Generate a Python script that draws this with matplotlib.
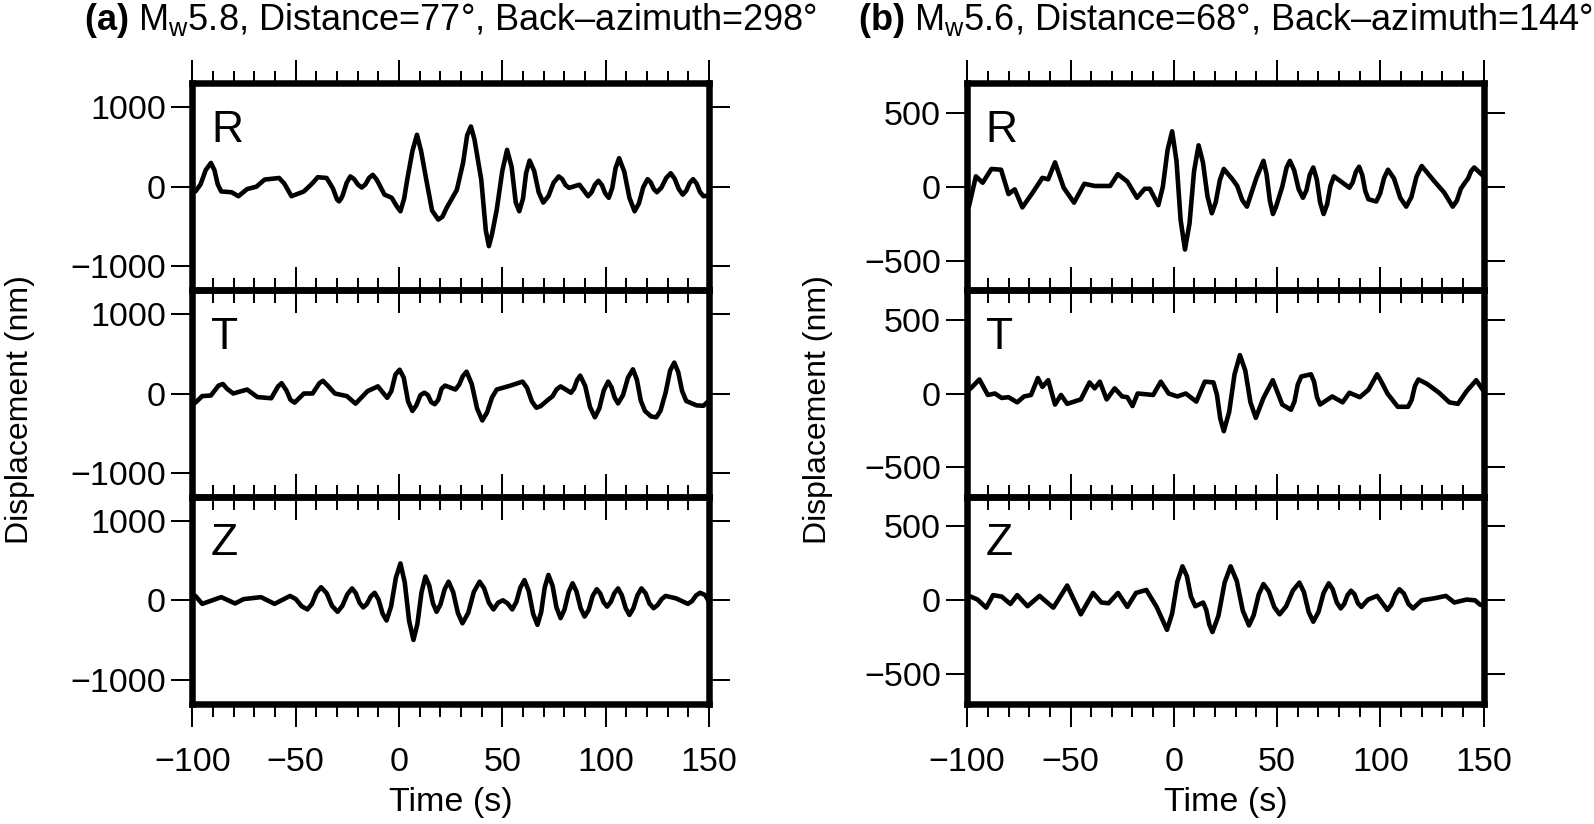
import numpy as np
import matplotlib
matplotlib.use('Agg')
import matplotlib.pyplot as plt
from matplotlib.ticker import MultipleLocator, FixedLocator

plt.rcParams['font.family'] = ['Liberation Sans', 'DejaVu Sans']
plt.rcParams['mathtext.fontset'] = 'custom'
plt.rcParams['mathtext.rm'] = 'Liberation Sans'
plt.rcParams['mathtext.bf'] = 'Liberation Sans:bold'
plt.rcParams['mathtext.it'] = 'Liberation Sans:italic'

# ---------------- data (time s, displacement nm) ----------------
a_R = [(-100, -50), (-98.5, -60), (-96, 30), (-93.5, 210), (-91, 300), (-89.3, 210), (-87.7, 30),
       (-86, -60), (-81, -70), (-77.7, -120), (-73.5, -30), (-69, 0), (-65, 90), (-58, 110),
       (-55.5, 40), (-52, -120), (-46, -60), (-42, 40), (-39.3, 120), (-35, 110), (-32, -20),
       (-30, -160), (-29, -185), (-28, -150), (-27.2, -105), (-25.3, 50), (-23.5, 130),
       (-21.7, 95), (-19.8, 25), (-18, -10), (-16.2, 30), (-14.5, 110), (-12.7, 150),
       (-10.8, 90), (-7, -100), (-3.5, -140), (-1, -250), (0.7, -310), (2.5, -150), (4, 90),
       (6.5, 450), (8.7, 655), (10.7, 450), (13.2, 90), (16, -300), (19, -415), (21, -380),
       (23, -270), (28, -40), (31, 300), (33, 650), (34.8, 760), (36.5, 600), (39.8, 90),
       (42, -550), (43.5, -750), (45, -600), (47.3, -290), (50, 200), (52.3, 465), (54.5, 250),
       (56.5, -200), (58.2, -310), (60, -150), (61.5, 170), (63.2, 330), (65.4, 200),
       (67.6, -70), (69.8, -200), (72.3, -120), (74.8, 50), (77.3, 130), (79, 95), (80.6, 20),
       (82.3, -15), (87.3, 25), (91.5, -120), (93.2, -70), (94.8, 25), (96.5, 75), (98.2, 20),
       (99.8, -85), (101.5, -140), (103.2, -15), (104.8, 235), (106.5, 360), (109, 190),
       (111.5, -140), (114, -310), (116.1, -210), (118.2, -5), (120.3, 95), (121.8, 55),
       (123.3, -30), (124.8, -70), (127, -10), (129.3, 110), (131.5, 170), (133.4, 100),
       (135.4, -30), (137.3, -100), (139, -50), (140.6, 45), (142.3, 95), (144, 40),
       (145.6, -65), (147.3, -120), (150, -110)]

a_T = [(-100, -130), (-98.5, -115), (-95.2, -33), (-91, -25), (-87.3, 100), (-85.2, 120),
       (-83.2, 60), (-80.2, 0), (-73.5, 50), (-68.5, -45), (-61.8, -60), (-58.5, 90),
       (-56.8, 130), (-54.5, 40), (-52.5, -80), (-50.5, -115), (-46, 0), (-41.8, 0),
       (-38.5, 130), (-36.8, 160), (-34.5, 100), (-31, 0), (-25.2, -33), (-21, -128),
       (-15.2, 30), (-10.2, 90), (-5.7, -55), (-3.7, 30), (-1.7, 240), (0.3, 300), (2.3, 200),
       (4.4, -100), (6.5, -220), (8.4, -150), (10.4, -20), (12.3, 10), (14, -20), (15.6, -110),
       (17.3, -135), (19, -80), (20.6, 60), (22.3, 100), (27.3, 50), (29.1, 110), (30.9, 220),
       (32.7, 275), (35.2, 120), (37.8, -190), (40.3, -340), (42.6, -240), (45, -50),
       (47.3, 50), (54, 100), (59.8, 150), (62, 70), (64.3, -100), (66.5, -180), (68.5, -160),
       (72.3, -75), (74.3, -35), (76.2, 50), (78.2, 90), (83.2, 10), (84.7, 60), (86.2, 170),
       (87.7, 225), (90.1, 95), (92.4, -170), (94.8, -300), (96.9, -190), (99.1, 40),
       (101.2, 150), (102.8, 80), (104.4, -55), (106, -125), (108.4, -20), (110.8, 200),
       (113.2, 305), (115.1, 175), (117, -90), (119, -220), (122, -290), (124.5, -300),
       (126.5, -220), (129, 10), (131.2, 290), (133.2, 390), (135.1, 270), (137, 30),
       (139, -95), (144, -150), (147.3, -155), (150, -90)]

a_Z = [(-100, 70), (-98.5, 55), (-95.2, -45), (-86, 40), (-79.3, -40), (-75.2, 15), (-66.8, 40),
       (-60.2, -45), (-52.7, 55), (-49.9, 15), (-47.1, -75), (-44.3, -115), (-42.1, -45),
       (-39.9, 95), (-37.7, 165), (-35, 90), (-32.4, -70), (-29.7, -145), (-27.4, -70),
       (-25, 75), (-22.7, 150), (-20.9, 90), (-19.1, -30), (-17.3, -90), (-15.5, -45),
       (-13.6, 50), (-11.8, 95), (-9.9, 10), (-7.9, -170), (-6, -255), (-3.8, -75), (-1.5, 285),
       (0.7, 465), (2.8, 225), (4.9, -260), (7, -500), (8.9, -300), (10.9, 100), (12.8, 300),
       (14.6, 190), (16.4, -35), (18.2, -145), (20.1, -50), (22.1, 140), (24, 235), (26.2, 105),
       (28.5, -160), (30.7, -290), (33.5, -160), (36.2, 105), (39, 235), (41.2, 150),
       (43.5, -30), (45.7, -115), (48, -30), (50.3, 0), (52.6, -40), (54.8, -115), (56.8, -20),
       (58.7, 160), (60.7, 255), (62.8, 115), (64.9, -170), (67, -310), (68.8, -150),
       (70.5, 160), (72.3, 320), (74.3, 185), (76.2, -90), (78.2, -225), (80.1, -115),
       (82.1, 105), (84, 215), (85.9, 110), (87.9, -100), (89.8, -205), (91.8, -120),
       (93.7, 55), (95.7, 140), (97.4, 85), (99, -25), (100.7, -80), (102.5, -20), (104.2, 90),
       (106, 150), (107.8, 65), (109.7, -100), (111.5, -185), (113.4, -100), (115.4, 65),
       (117.3, 150), (119.3, 90), (121.2, -40), (123.2, -100), (125.1, -60), (127.1, 15),
       (129, 55), (134, 25), (139.8, -45), (141.8, -10), (143.7, 60), (145.7, 95), (148.2, 65),
       (150, -20)]

b_R = [(-100, -160), (-99.1, -130), (-95.8, 70), (-92.5, 27), (-88.3, 120), (-83.6, 115),
       (-80, -50), (-77, -18), (-73.3, -140), (-68.3, -40), (-63.6, 60), (-60.8, 50),
       (-57.5, 165), (-53.3, -7), (-48.3, -108), (-43.3, 20), (-38.3, 5), (-30.8, 5),
       (-27.1, 85), (-22.5, 35), (-17.8, -75), (-14.1, -14), (-11.6, -14), (-7.5, -125),
       (-5.3, 0), (-3, 250), (-0.8, 375), (1.3, 175), (3.3, -225), (5.4, -425), (7.6, -250),
       (9.8, 105), (12, 280), (14.1, 165), (16.3, -65), (18.4, -180), (20.3, -105), (22.3, 45),
       (24.2, 120), (28.4, 50), (30.7, 5), (33.1, -90), (35.4, -135), (40, 60), (43.4, 175),
       (44.9, 85), (46.5, -95), (48, -185), (49.5, -135), (52.5, 0), (54.6, 130), (56.2, 175),
       (58.3, 110), (60.4, -15), (62.5, -75), (64.2, -25), (65.8, 80), (67.5, 130), (69.2, 50),
       (70.8, -105), (72.5, -185), (74.2, -120), (75.8, 5), (77.5, 70), (85, -7), (86.6, 30),
       (88.1, 100), (89.7, 135), (91.2, 80), (92.7, -30), (94.2, -85), (98, -100), (99.9, -45),
       (101.8, 60), (103.7, 115), (106.6, 55), (109.6, -75), (112.5, -135), (115, -70),
       (117.5, 70), (120, 140), (125.9, 40), (130.9, -40), (135, -135), (137, -95),
       (138.9, -15), (140.9, 27), (142.4, 55), (143.9, 105), (145.4, 130), (150, 70)]

b_T = [(-100, 20), (-98.3, 35), (-94.1, 95), (-90, -10), (-86.6, 0), (-83.3, -30), (-80, -25),
       (-75.8, -60), (-72.5, -20), (-69.1, -10), (-65.8, 105), (-63.6, 45), (-60.8, 90),
       (-57.5, -75), (-54.6, -10), (-51.6, -70), (-45, -40), (-40.8, 75), (-38.3, 35),
       (-35.8, 80), (-32.5, -40), (-28.6, 35), (-25, -20), (-22.5, -25), (-20, -85),
       (-17.5, 0), (-10, -10), (-6.3, 80), (-2.5, 0), (1.7, -20), (5.8, 0), (10.9, -55),
       (15, 80), (19.2, 75), (20.9, -10), (22.5, -170), (24.2, -255), (26.8, -125), (29.4, 130),
       (32, 260), (34.6, 155), (37.1, -60), (39.7, -165), (43.4, -30), (47.9, 90), (52.5, -75),
       (56.7, -110), (58.4, -55), (60, 60), (61.7, 115), (66.4, 130), (67.9, 80), (69.3, -25),
       (70.8, -75), (76.7, -20), (81.7, -60), (85, 5), (90, -25), (94.2, 25), (98.4, 130),
       (100.1, 90), (103.4, 0), (108.4, -90), (113.4, -90), (115.1, -45), (116.7, 50),
       (118.4, 95), (122.6, 65), (128.4, 5), (133.4, -60), (137.5, -70), (141.7, 15),
       (146.4, 90), (150, 15)]

b_Z = [(-100, 30), (-98.3, 25), (-95, 5), (-90.8, -50), (-87.5, 35), (-83.3, 25), (-79.1, -25),
       (-75.8, 35), (-70.8, -40), (-65, 30), (-58.3, -50), (-51.6, 100), (-45, -95),
       (-39.1, 50), (-35, -15), (-31.6, -20), (-27, 50), (-22.5, -45), (-18.3, 50),
       (-13.3, 70), (-8.3, -45), (-3.3, -200), (-0.8, -90), (1.7, 125), (4.2, 230), (6.3, 165),
       (8.3, 25), (10.4, -40), (14.2, -15), (15.7, -65), (17.2, -165), (18.7, -215),
       (21.6, -105), (24.6, 120), (27.5, 230), (30.5, 130), (33.4, -70), (36.4, -170),
       (38.7, -100), (41.1, 40), (43.4, 110), (46, 60), (48.6, -45), (51.2, -95), (54.4, -40),
       (57.6, 65), (60.8, 120), (63, 55), (65.3, -80), (67.5, -145), (70, -80), (72.5, 50),
       (75, 115), (76.9, 75), (78.9, -15), (80.8, -55), (82.5, -25), (84.1, 35), (85.8, 65),
       (87.5, 40), (89.1, -20), (90.8, -45), (94, 5), (98.4, 30), (103.4, -65), (105.3, -30),
       (107.3, 40), (109.2, 75), (111.4, 45), (113.6, -25), (115.8, -55), (120, 0), (126.7, 15),
       (131.7, 30), (135.8, -15), (141.7, 5), (145.8, 0), (148.3, -30), (150, -35)]

components = ['R', 'T', 'Z']
traces = {'a': [a_R, a_T, a_Z], 'b': [b_R, b_T, b_Z]}
ylims = {'a': 1305, 'b': 700}
yticks = {'a': [-1000, 0, 1000], 'b': [-500, 0, 500]}
titles = {'a': r"$\mathbf{(a)}$ M$_\mathrm{w}$5.8, Distance=77°, Back–azimuth=298°",
          'b': r"$\mathbf{(b)}$ M$_\mathrm{w}$5.6, Distance=68°, Back–azimuth=144°"}
xlim = (-100, 150)

# ---------------- layout (pixel geometry of the 1594x824 figure) ----------------
W, H = 1594, 824
fig = plt.figure(figsize=(W / 100, H / 100), dpi=100)

col_x = {'a': (192.3, 709.0), 'b': (967.2, 1483.7)}
row_top = [83.3, 290.1, 496.9]
row_h = 206.8

FS = 24.5
for key in ['a', 'b']:
    x0, x1 = col_x[key]
    for i, comp in enumerate(components):
        top = row_top[i]
        ax = fig.add_axes([x0 / W, 1 - (top + row_h) / H, (x1 - x0) / W, row_h / H])
        ax.patch.set_alpha(0)
        t, v = zip(*traces[key][i])
        ax.plot(t, v, color='black', lw=3.3, solid_joinstyle='round', solid_capstyle='round')
        ax.set_xlim(*xlim)
        ax.set_ylim(-ylims[key], ylims[key])
        ax.xaxis.set_major_locator(MultipleLocator(50))
        ax.xaxis.set_minor_locator(MultipleLocator(10))
        ax.yaxis.set_major_locator(FixedLocator(yticks[key]))
        for s in ax.spines.values():
            s.set_linewidth(4.7)
        ax.tick_params(axis='x', which='major', direction='out', length=16.5, width=1.45,
                       top=True, bottom=True, labelbottom=(i == 2), labelsize=FS, pad=15)
        ax.tick_params(axis='x', which='minor', direction='out', length=9, width=1.45,
                       top=True, bottom=True)
        ax.tick_params(axis='y', which='major', direction='out', length=15, width=1.45,
                       left=True, right=True, labelleft=True, labelright=False,
                       labelsize=FS, pad=4)
        ax.text(0.036, 0.717, comp, transform=ax.transAxes, fontsize=32,
                ha='left', va='baseline')
    xc = (x0 + x1) / 2
    fig.text(xc / W, 1 - 803 / H, 'Time (s)', ha='center', va='center', fontsize=FS)
    fig.text(xc / W, 1 - 30 / H, titles[key], ha='center', va='baseline', fontsize=26)

fig.text(20 / W, 1 - 410 / H, 'Displacement (nm)', rotation=90, ha='center', va='center',
         fontsize=23)
fig.text(818 / W, 1 - 410 / H, 'Displacement (nm)', rotation=90, ha='center', va='center',
         fontsize=23)

fig.savefig('out.png', dpi=100)
